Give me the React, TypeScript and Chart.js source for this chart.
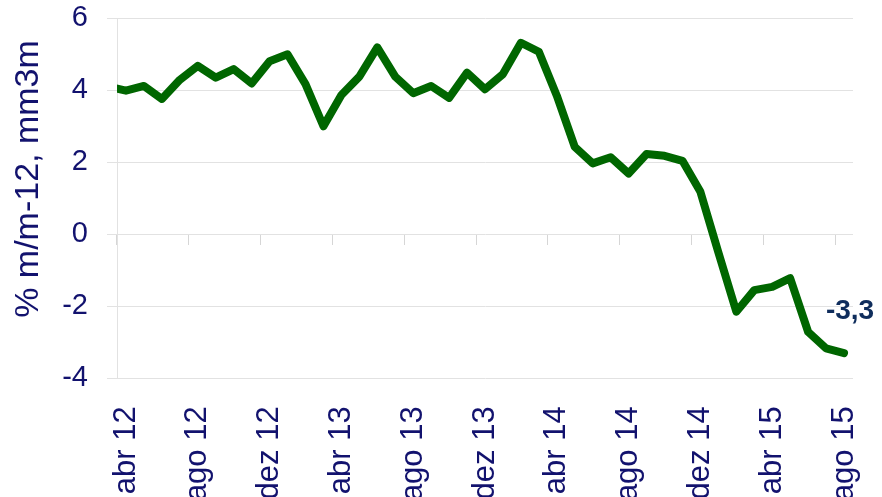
import { useEffect, useRef } from 'react';
import { Chart, registerables } from 'chart.js';

Chart.register(...registerables);

const months = [
  'mar 12', 'abr 12', 'mai 12', 'jun 12', 'jul 12', 'ago 12', 'set 12', 'out 12', 'nov 12', 'dez 12',
  'jan 13', 'fev 13', 'mar 13', 'abr 13', 'mai 13', 'jun 13', 'jul 13', 'ago 13', 'set 13', 'out 13', 'nov 13', 'dez 13',
  'jan 14', 'fev 14', 'mar 14', 'abr 14', 'mai 14', 'jun 14', 'jul 14', 'ago 14', 'set 14', 'out 14', 'nov 14', 'dez 14',
  'jan 15', 'fev 15', 'mar 15', 'abr 15', 'mai 15', 'jun 15', 'jul 15', 'ago 15',
];

const values = [
  4.1, 3.99, 4.12, 3.76, 4.29, 4.68, 4.35, 4.59, 4.19, 4.81,
  5.0, 4.17, 3.0, 3.87, 4.38, 5.19, 4.38, 3.92, 4.12, 3.79, 4.49, 4.03,
  4.45, 5.32, 5.07, 3.85, 2.43, 1.97, 2.14, 1.69, 2.23, 2.18, 2.04, 1.18,
  -0.5, -2.15, -1.55, -1.46, -1.22, -2.71, -3.17, -3.3,
];

const firstShown = 'abr 12';
const labelEvery = 4;
const yMin = -4;
const yMax = 6;
const yStep = 2;
const yTitle = '% m/m-12, mm3m';

const FONT = "'Liberation Sans', Arial, Helvetica, sans-serif";
const NAVY = '#12126e';
const ANN = '#0f2d5c';
const GRID = '#e2e2e2';
const TICKMARK = '#d6d6d6';
const GREEN = '#006600';

const overlay = {
  id: 'overlay',
  afterDatasetsDraw(chart: any) {
    const ctx = chart.ctx;
    const meta = chart.getDatasetMeta(0);
    const last = meta.data[meta.data.length - 1];
    const lastVal = values[values.length - 1];
    ctx.save();
    ctx.fillStyle = ANN;
    ctx.font = `bold 28px ${FONT}`;
    ctx.textAlign = 'center';
    ctx.textBaseline = 'middle';
    ctx.fillText(lastVal.toFixed(1).replace('.', ','), last.x + 6, last.y - 42);
    ctx.restore();

    ctx.save();
    ctx.fillStyle = NAVY;
    ctx.font = `34px ${FONT}`;
    ctx.textAlign = 'center';
    ctx.textBaseline = 'middle';
    ctx.translate(29, 179);
    ctx.rotate(-Math.PI / 2);
    ctx.fillText(yTitle, 0, 0);
    ctx.restore();
  },
};

export default function App() {
  const ref = useRef<HTMLCanvasElement | null>(null);

  useEffect(() => {
    if (!ref.current) return;
    const chart = new Chart(ref.current, {
      type: 'line',
      data: {
        labels: months,
        datasets: [
          {
            data: values,
            borderColor: GREEN,
            backgroundColor: GREEN,
            borderWidth: 8,
            borderCapStyle: 'round',
            borderJoinStyle: 'round',
            pointRadius: 0,
            pointHoverRadius: 0,
            tension: 0,
            fill: false,
          },
        ],
      },
      options: {
        responsive: false,
        animation: false,
        devicePixelRatio: 1,
        layout: { padding: { top: 18.3, right: 29, left: 0, bottom: 0 } },
        plugins: {
          legend: { display: false },
          tooltip: { enabled: false },
          title: { display: false },
        },
        scales: {
          x: {
            type: 'category',
            min: firstShown,
            offset: true,
            grid: { display: false },
            border: { display: false },
            ticks: {
              autoSkip: false,
              minRotation: 90,
              maxRotation: 90,
              padding: 20,
              color: NAVY,
              font: { family: FONT, size: 31 },
              callback: (_v: any, i: number) => (i % labelEvery === 0 ? months[i + 1] : ''),
            },
            afterFit: (s: any) => {
              s.height = 118.7;
              s.paddingLeft = 0;
              s.paddingRight = 0;
            },
          },
          x2: {
            type: 'category',
            axis: 'x',
            min: firstShown,
            offset: true,
            position: { y: 0 },
            border: { display: false },
            grid: {
              offset: true,
              drawOnChartArea: false,
              drawTicks: true,
              tickLength: 11,
              lineWidth: 1,
              color: (c: any) => (c.index % labelEvery === 0 ? TICKMARK : 'rgba(0,0,0,0)'),
            },
            ticks: { display: false, autoSkip: false },
            afterFit: (s: any) => {
              s.paddingLeft = 0;
              s.paddingRight = 0;
              s.paddingTop = 0;
              s.paddingBottom = 0;
            },
          },
          y: {
            type: 'linear',
            min: yMin,
            max: yMax,
            border: { display: true, color: GRID, width: 1 },
            grid: { color: GRID, lineWidth: 1, tickLength: 10 },
            ticks: {
              stepSize: yStep,
              padding: 19,
              color: NAVY,
              font: { family: FONT, size: 29 },
            },
            afterFit: (s: any) => {
              s.width = 117;
              s.paddingTop = 0;
              s.paddingBottom = 0;
            },
          },
        },
      },
      plugins: [overlay],
    } as any);
    return () => chart.destroy();
  }, []);

  return (
    <div style={{ position: 'fixed', left: 0, top: 0, width: 882, height: 497, background: '#fff' }}>
      <canvas ref={ref} width={882} height={497} style={{ display: 'block' }} />
    </div>
  );
}
